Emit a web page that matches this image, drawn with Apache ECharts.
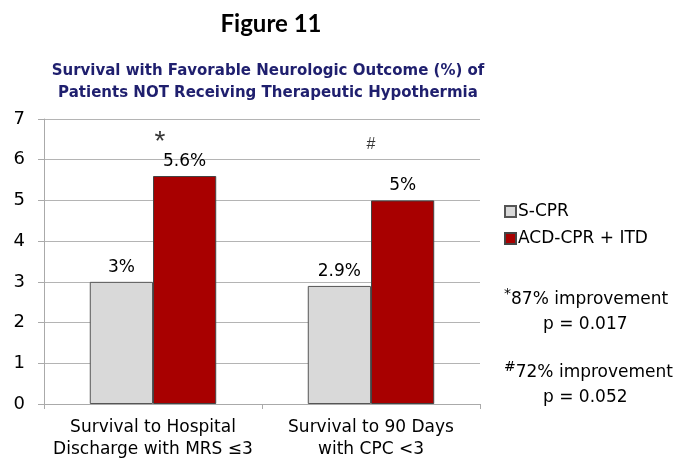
<!DOCTYPE html>
<html>
<head>
<meta charset="utf-8">
<script src="https://cdn.jsdelivr.net/npm/echarts@6/dist/echarts.min.js"></script>
<style>
  html, body { margin: 0; padding: 0; background: #fff; }
  #chart { width: 690px; height: 461px; }
</style>
</head>
<body>
<div id="chart"></div>
<script>
// data
const categories = ['Survival to Hospital\nDischarge with MRS ≤3', 'Survival to 90 Days\nwith CPC <3']
const sCpr = [3, 2.9]
const acdCpr = [5.6, 5]
const sCprLabels = ['3%', '2.9%']
const acdLabels = ['5.6%', '5%']
const marks = ['*', '#']
const markLevels = [6.44, 6.37]
const yTicks = [0, 1, 2, 3, 4, 5, 6, 7]

const FONT = '"DejaVu Sans", "Liberation Sans", sans-serif'
const GRAY = '#d9d9d9'
const RED = '#a80000'

const chart = echarts.init(document.getElementById('chart'))

const noteRich = {
  s: { fontSize: 14, verticalAlign: 'top', padding: [0, 0, 8, 0], fontFamily: FONT },
  i: { padding: [0, 0, 0, 39], fontSize: 17, fontFamily: FONT },
}

chart.setOption({
  backgroundColor: '#fff',
  animation: false,
  title: [
    {
      text: 'Figure 11',
      left: 266, top: 7, textAlign: 'center',
      textStyle: { fontFamily: 'Lato, "Open Sans", sans-serif', fontWeight: 'bold', fontSize: 24, color: '#000' },
    },
    {
      text: 'Survival with Favorable Neurologic Outcome (%) of\nPatients NOT Receiving Therapeutic Hypothermia',
      left: 263, top: 55, textAlign: 'center',
      textStyle: { fontFamily: FONT, fontWeight: 'bold', fontSize: 15, lineHeight: 22, color: '#1f1f6e' },
    },
  ],
  legend: {
    orient: 'vertical',
    left: 499, top: 198,
    itemWidth: 11, itemHeight: 11, itemGap: 10,
    icon: 'rect',
    textStyle: { fontFamily: FONT, fontSize: 17, color: '#000', padding: [0, 0, 0, -3] },
    data: ['S-CPR', 'ACD-CPR + ITD'],
  },
  grid: { left: 44, right: 210, top: 119, bottom: 55 },
  xAxis: {
    type: 'category',
    data: categories,
    axisLine: { lineStyle: { color: '#aaa' } },
    axisTick: { show: true, length: 5, lineStyle: { color: '#aaa' } },
    axisLabel: { interval: 0, fontFamily: FONT, fontSize: 17, color: '#000', lineHeight: 22, margin: 13 },
  },
  yAxis: {
    type: 'value',
    min: 0, max: 7, interval: 1,
    axisLine: { show: true, lineStyle: { color: '#aaa' } },
    axisTick: { show: true, length: 6, lineStyle: { color: '#aaa' } },
    splitLine: { lineStyle: { color: '#b4b4b4' } },
    axisLabel: {
      fontFamily: FONT, fontSize: 18, color: '#000', margin: 19,
      formatter: (v) => (yTicks.includes(v) ? String(v) : ''),
    },
  },
  series: [
    {
      name: 'S-CPR',
      type: 'bar',
      data: sCpr,
      barWidth: '29%',
      barGap: '0%',
      itemStyle: { color: GRAY, borderColor: '#555', borderWidth: 1 },
      label: {
        show: true, position: 'top', distance: 6,
        fontFamily: FONT, fontSize: 17, color: '#000',
        formatter: (p) => sCprLabels[p.dataIndex],
      },
    },
    {
      name: 'ACD-CPR + ITD',
      type: 'bar',
      data: acdCpr,
      barWidth: '29%',
      itemStyle: { color: RED, borderColor: '#444', borderWidth: 1 },
      label: {
        show: true, position: 'top', distance: 6,
        fontFamily: FONT, fontSize: 17, color: '#000',
        formatter: (p) => acdLabels[p.dataIndex],
      },
    },
    {
      name: 'marks',
      type: 'scatter',
      symbolSize: 1,
      itemStyle: { color: 'transparent' },
      silent: true,
      data: markLevels.map((v, i) => ({
        value: v,
        label: { fontSize: i === 0 ? 28 : 16 },
      })),
      label: {
        show: true, position: 'inside',
        fontFamily: '"Liberation Sans", sans-serif', color: '#000',
        formatter: (p) => marks[p.dataIndex],
      },
      labelLayout: (p) => ({ dx: p.dataIndex === 0 ? 7 : 0 }),
    },
  ],
  graphic: [
    {
      type: 'text', left: 504, top: 287,
      style: {
        text: '{s|*}87% improvement\n{i|p = 0.017}',
        font: '17px ' + FONT, fill: '#000', lineHeight: 25,
        rich: noteRich,
      },
    },
    {
      type: 'text', left: 504, top: 360,
      style: {
        text: '{s|#}72% improvement\n{i|p = 0.052}',
        font: '17px ' + FONT, fill: '#000', lineHeight: 25,
        rich: noteRich,
      },
    },
  ],
})
</script>
</body>
</html>
